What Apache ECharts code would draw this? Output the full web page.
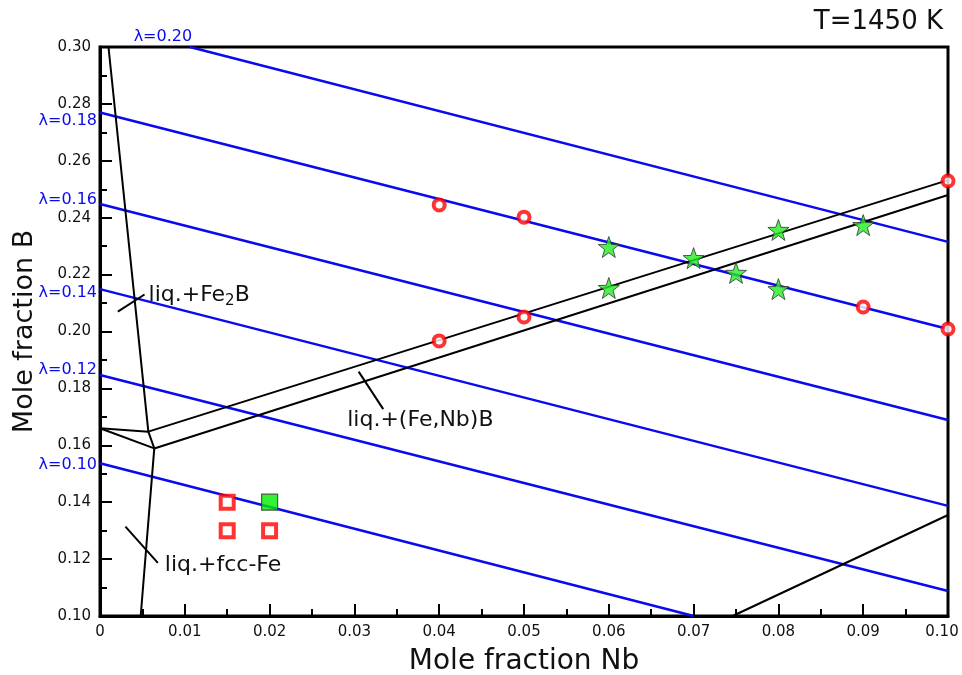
<!DOCTYPE html>
<html><head><meta charset="utf-8">
<script src="https://cdn.jsdelivr.net/npm/echarts@6/dist/echarts.min.js"></script>
<style>html,body{margin:0;padding:0;background:#fff}#c{width:962px;height:675px}</style>
</head><body><div id="c"></div>
<script>
// ---- data ----
const lambdaNames = ['λ=0.10', 'λ=0.12', 'λ=0.14', 'λ=0.16', 'λ=0.18', 'λ=0.20'];
const lambdaStart = [[0, 0.1537], [0, 0.1847], [0, 0.2149], [0, 0.2448], [0, 0.2770], [0.0106, 0.30]];
const lambdaEnd = [[0.0700, 0.10], [0.10, 0.1088], [0.10, 0.1387], [0.10, 0.1689], [0.10, 0.2009], [0.10, 0.2315]];

const boundaryLines = [
  [[0.0010, 0.30], [0.0057, 0.1648]],
  [[0, 0.1660], [0.0057, 0.1648]],
  [[0, 0.1660], [0.0064, 0.1589]],
  [[0.0057, 0.1648], [0.0064, 0.1589]],
  [[0.0064, 0.1589], [0.0048, 0.10]],
  [[0.0057, 0.1648], [0.10, 0.2532]],
  [[0.0064, 0.1589], [0.10, 0.2480]],
  [[0.0746, 0.10], [0.10, 0.1355]]
];

const redCircles = [[0.04, 0.2445], [0.05, 0.2402], [0.09, 0.2086], [0.10, 0.2009], [0.04, 0.1967], [0.05, 0.2051], [0.10, 0.2529]];
const greenStars = [[0.06, 0.2297], [0.06, 0.2153], [0.07, 0.2258], [0.075, 0.2206], [0.08, 0.2357], [0.08, 0.2149], [0.09, 0.2374]];
const redSquares = [[0.015, 0.14], [0.015, 0.13], [0.02, 0.13]];
const greenSquares = [[0.02, 0.14]];

const annotationTexts = ['liq.+Fe{s|2}B', 'liq.+fcc-Fe', 'liq.+(Fe,Nb)B'];
const annotationFrom = [[0.0021, 0.2070], [0.0030, 0.1314], [0.0305, 0.1859]];
const annotationTo = [[0.00525, 0.2130], [0.00682, 0.1187], [0.0334, 0.1727]];

const tempLabel = 'T=1450 K';
const xName = 'Mole fraction Nb';
const yName = 'Mole fraction B';

// ---- styles (layout only) ----
const lambdaLabelOffset = [[-3, 2], [-3, -5], [-3, 4], [-3, -4], [-3, 8], [-27, -10]];
const annotationLabelOffset = [[4, 1], [7, 2], [-36, 11]];
const FONT = 'DejaVu Sans';
const BLUE = '#0a0aee';

const starPath = 'path://M0,-10L2.35,-3.24L9.51,-3.09L3.8,1.24L5.88,8.09L0,4L-5.88,8.09L-3.8,1.24L-9.51,-3.09L-2.35,-3.24Z';

const chart = echarts.init(document.getElementById('c'), null, {renderer: 'canvas'});

const series = [];
lambdaStart.forEach((s, i) => {
  series.push({type: 'line', data: [s, lambdaEnd[i]], showSymbol: false, symbol: 'none', silent: true,
    lineStyle: {color: BLUE, width: 2.5}, z: 2, animation: false});
});
boundaryLines.forEach(seg => {
  series.push({type: 'line', data: seg, showSymbol: false, symbol: 'none', silent: true,
    lineStyle: {color: '#000', width: 2}, z: 3, animation: false});
});
annotationFrom.forEach((s, i) => {
  series.push({type: 'line', data: [s, annotationTo[i]], showSymbol: false, symbol: 'none', silent: true,
    lineStyle: {color: '#000', width: 2}, z: 3, animation: false});
});
series.push({type: 'scatter', data: redSquares, symbol: 'rect', symbolSize: 13, clip: false, z: 5, animation: false,
  itemStyle: {color: '#fff', borderColor: '#ff0000', borderWidth: 4}});
series.push({type: 'scatter', data: greenSquares, symbol: 'rect', symbolSize: 16, clip: false, z: 5, animation: false,
  itemStyle: {color: '#00ee00', borderColor: '#333', borderWidth: 1.2}});
series.push({type: 'scatter', data: greenStars, symbol: starPath, symbolSize: 21, clip: false, z: 6, animation: false,
  itemStyle: {color: '#22ee22', borderColor: '#333', borderWidth: 1}});
series.push({type: 'scatter', data: redCircles, symbol: 'circle', symbolSize: 11, clip: false, z: 6, animation: false,
  itemStyle: {color: '#fff', borderColor: '#ff0000', borderWidth: 4}});

chart.setOption({
  animation: false,
  backgroundColor: '#fff',
  textStyle: {fontFamily: FONT},
  title: {text: tempLabel, right: 14, top: 4, textStyle: {fontFamily: FONT, fontSize: 26, fontWeight: 'normal', color: '#111'}},
  grid: {left: 100, top: 47, right: 14, bottom: 59, containLabel: false, outerBoundsMode: 'none',
    show: true, borderColor: '#000', borderWidth: 3, backgroundColor: 'transparent'},
  xAxis: {
    type: 'value', min: 0, max: 0.1, interval: 0.01,
    name: xName, nameLocation: 'middle', nameGap: 32,
    nameTextStyle: {fontFamily: FONT, fontSize: 28, color: '#111'},
    axisLine: {show: true, lineStyle: {color: '#000', width: 3}},
    axisTick: {show: true, inside: true, length: 12, lineStyle: {color: '#000', width: 2}},
    minorTick: {show: true, splitNumber: 2, length: 7, lineStyle: {color: '#000', width: 2}},
    splitLine: {show: false}, minorSplitLine: {show: false},
    axisLabel: {fontFamily: FONT, fontSize: 15, color: '#111', margin: 9,
      formatter: v => (Math.abs(v) < 1e-9 ? '0' : (Math.abs(v - 0.1) < 1e-9 ? '{r|' + v.toFixed(2) + '}' : v.toFixed(2))),
      rich: {r: {fontFamily: FONT, fontSize: 15, color: '#111', padding: [0, 12, 0, 0]}}}
  },
  yAxis: {
    type: 'value', min: 0.1, max: 0.3, interval: 0.02,
    name: yName, nameLocation: 'middle', nameGap: 62,
    nameTextStyle: {fontFamily: FONT, fontSize: 27, color: '#111'},
    axisLine: {show: true, lineStyle: {color: '#000', width: 3}},
    axisTick: {show: true, inside: true, length: 12, lineStyle: {color: '#000', width: 2}},
    minorTick: {show: true, splitNumber: 2, length: 7, lineStyle: {color: '#000', width: 2}},
    splitLine: {show: false}, minorSplitLine: {show: false},
    axisLabel: {fontFamily: FONT, fontSize: 15, color: '#111', margin: 9,
      formatter: v => v.toFixed(2)}
  },
  series: series
});

// labels anchored to data points through the chart's scales
const graphics = [];
lambdaStart.forEach((s, i) => {
  const p = chart.convertToPixel({gridIndex: 0}, s);
  const atTop = s[0] > 0;
  graphics.push({type: 'text', x: p[0] + lambdaLabelOffset[i][0], y: p[1] + lambdaLabelOffset[i][1], z: 10,
    style: {text: lambdaNames[i], fill: BLUE, font: '16px "' + FONT + '"',
      align: atTop ? 'center' : 'right', verticalAlign: 'middle'}});
});
annotationTo.forEach((s, i) => {
  const p = chart.convertToPixel({gridIndex: 0}, s);
  graphics.push({type: 'text', x: p[0] + annotationLabelOffset[i][0], y: p[1] + annotationLabelOffset[i][1], z: 10,
    style: {text: annotationTexts[i], fill: '#111', fontFamily: FONT, fontSize: 22,
      align: 'left', verticalAlign: 'middle',
      rich: {s: {fontFamily: FONT, fontSize: 15, fill: '#111', verticalAlign: 'bottom', padding: [12, 0, 0, 0]}}}});
});
chart.setOption({graphic: graphics});
</script>
</body></html>
